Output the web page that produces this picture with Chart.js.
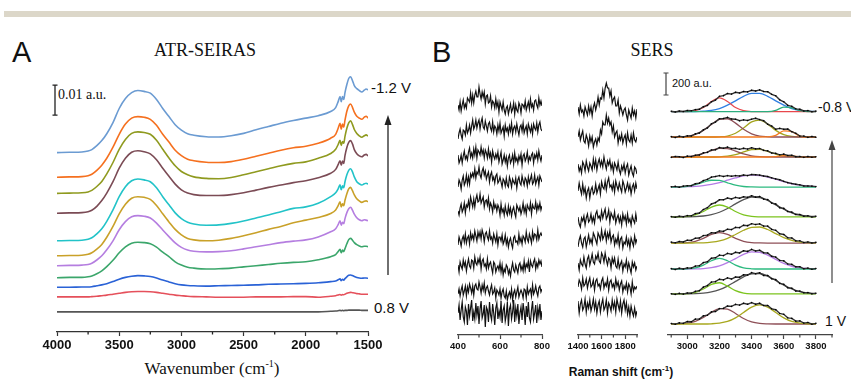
<!DOCTYPE html>
<html>
<head>
<meta charset="utf-8">
<script src="https://cdn.jsdelivr.net/npm/chart.js@4.4.1/dist/chart.umd.min.js"></script>
<style>
body { margin: 0; background: #fff; }
#fig { position: relative; width: 851px; height: 380px; overflow: hidden; background: #fff; }
#fig canvas { position: absolute; }
.t { position: absolute; white-space: nowrap; line-height: 1; color: #111; }
.serif { font-family: "Liberation Serif", "Times New Roman", serif; }
.sans { font-family: "Liberation Sans", Arial, sans-serif; }
</style>
</head>
<body>
<div id="fig">
  <div style="position:absolute;left:4px;top:11px;width:847px;height:6px;background:#dcd7c9"></div>

  <div class="t sans" style="left:12px;top:38px;font-size:29px">A</div>
  <div class="t serif" style="left:105px;top:41px;width:200px;text-align:center;font-size:18px">ATR-SEIRAS</div>
  <div class="t serif" style="left:58px;top:88px;font-size:14px">0.01 a.u.</div>
  <div class="t sans" style="left:371px;top:80px;font-size:15px">-1.2 V</div>
  <div class="t sans" style="left:374px;top:300px;font-size:15px">0.8 V</div>
  <div class="t serif" style="left:112px;top:360px;width:200px;text-align:center;font-size:17px">Wavenumber (cm<span style="font-size:10px;position:relative;top:-7px">-1</span>)</div>

  <div class="t sans" style="left:432px;top:38px;font-size:29px">B</div>
  <div class="t serif" style="left:552px;top:41px;width:200px;text-align:center;font-size:18px">SERS</div>
  <div class="t sans" style="left:672px;top:78px;font-size:11px">200 a.u.</div>
  <div class="t sans" style="left:818px;top:100px;font-size:14px">-0.8 V</div>
  <div class="t sans" style="left:825px;top:314px;font-size:14px">1 V</div>
  <div class="t sans" style="left:521px;top:366px;width:200px;text-align:center;font-size:12px;font-weight:bold">Raman shift (cm<span style="font-size:8px;position:relative;top:-5px">-1</span>)</div>

  <canvas id="irChart" width="420" height="308" style="left:0px;top:50px"></canvas>
  <canvas id="ramanLowChart" width="120" height="304" style="left:440px;top:55px"></canvas>
  <canvas id="ramanMidChart" width="95" height="304" style="left:560px;top:55px"></canvas>
  <canvas id="ramanOhChart" width="200" height="304" style="left:650px;top:55px"></canvas>
</div>

<script>
// ---------- A: ATR-SEIRAS, absorbance in mAU (0.001 a.u.) ----------
const irWavenumbers = [4000,3900,3800,3750,3720,3680,3640,3600,3550,3500,
  3450,3400,3350,3300,3250,3200,3150,3100,3050,3000,
  2950,2900,2800,2700,2600,2500,2400,2300,2200,2100,
  2000,1900,1800,1760,1740,1725,1715,1705,1695,1685,
  1670,1655,1640,1625,1610,1590,1570,1550,1530,1515,
  1500];

const irM12 = [0,0.1,0.2,0.5,1,2.3,4,6.3,10,14.7,
  18,20,20.7,20.4,19.8,17.7,14.7,12,9.3,7.5,
  6.3,5.8,5.3,5.2,5.6,6.4,7.6,8.7,9.8,10.7,
  11.5,12.3,13.7,15,17,18.7,17,18.7,17.7,20,
  22.7,24.7,25.3,24,22.3,21.3,20.7,20.2,20.8,21.2,
  20.9];
const irM10 = [0,0.1,0.2,0.5,1,2.3,4,6.3,10,14.3,
  17.7,19.7,20.2,20,19.3,17.3,14.3,11.7,9,7.2,
  6,5.5,5,4.9,5.2,6,7,8,9,9.8,
  10.3,11.3,13,14.3,16.3,18,16,17.7,16.7,19,
  22,23.8,24.4,23.3,21.7,20.3,19.7,19.3,20,20.3,
  19.7];
const irM08 = [0,0.1,0.2,0.5,1,2.3,4,6.5,10.3,14.7,
  18,20,20.5,20.3,19.7,17.7,14.7,11.8,9.2,7.3,
  6.2,5.5,5,4.9,5.3,6.2,7.2,8.2,9.2,10,
  10.5,11.7,13.3,14.7,16.3,17.7,16,17.3,16.7,19,
  21.7,23.5,24.2,23,21.3,20,19.2,18.7,19.2,19.5,
  19.1];
const irM06 = [0,0.1,0.2,0.5,1,2.3,4.2,6.7,10.5,15,
  18.3,20.3,20.8,20.5,19.8,17.8,15,12.3,9.7,7.8,
  6.7,6.2,5.9,5.9,6.2,6.8,7.7,8.6,9.4,10.2,
  10.8,11.8,13.3,14.6,16.2,17.5,16,17.4,16.6,19.2,
  21.9,23.6,24.2,23.1,21.2,19.8,19.1,18.8,19.4,19.6,
  19.1];
const irM04 = [0,0.1,0.2,0.5,1,2.3,4,6.5,10.3,14.7,
  18,20,20.6,20.3,19.7,17.7,14.7,12,9.3,7.4,
  6.2,5.6,5.2,5.3,5.8,6.6,7.6,8.6,9.7,10.8,
  11.3,12.5,14.7,16,17.3,18.7,17,18.3,17.7,19.7,
  22,23.5,24,23,21.3,19.7,19,18.6,19,19.2,
  18.9];
const irM02 = [0,0.1,0.2,0.5,1,2.2,3.8,6.2,9.8,14,
  17.2,19.2,19.7,19.5,18.8,16.8,14,11.3,8.8,7,
  5.8,5.3,5,5.2,5.8,6.7,7.7,8.8,9.8,11,
  11.9,12.8,14.1,15.3,16.7,18,16.3,17.3,16.7,18.5,
  20.7,22.3,22.8,21.7,20.3,19,18.3,17.8,18.2,18.3,
  18];
const ir00 = [0,0.1,0.2,0.4,0.8,1.9,3.3,5.3,8.3,12,
  14.7,16.3,16.7,16.5,15.9,14.2,11.9,9.7,7.6,6.1,
  5.2,4.8,4.6,4.7,5,5.6,6.3,7,7.7,8.2,
  8.6,9.6,11.3,12.3,13.7,15,13.5,14.5,14,15.7,
  17.7,19,19.5,18.5,17.2,16,15.3,15,15.3,15.2,
  15];
const irP02 = [0,0.1,0.1,0.3,0.6,1.3,2.3,3.7,5.8,8.3,
  10.3,11.5,11.8,11.7,11.3,10.2,8.5,7,5.3,4.2,
  3.5,3.2,2.9,3,3.2,3.6,4,4.4,4.8,5.1,
  5.3,6,7,7.7,8.7,9.5,8.3,9.2,8.7,9.7,
  11.3,12.7,13.1,12.5,11.7,11,10.6,10.3,10.5,10.5,
  10.3];
const irP04 = [0,0,0.1,0.1,0.2,0.5,0.8,1.2,1.9,2.7,
  3.3,3.7,3.9,3.8,3.6,3.1,2.4,1.8,1.2,0.8,
  0.6,0.5,0.4,0.5,0.6,0.7,0.8,1,1.1,1.2,
  1.3,1.5,1.9,2.1,2.5,2.8,2.2,2.7,2.4,2.9,
  3.5,4,4.1,3.9,3.6,3.3,3.1,3,3.1,3.1,
  3];
const irP06 = [0,0,0,0,0.1,0.2,0.4,0.6,0.9,1.2,
  1.5,1.7,1.8,1.8,1.7,1.5,1.2,0.9,0.6,0.4,
  0.2,0.1,0,-0.1,-0.1,-0.1,0,0,0,0.1,
  0.1,-0.1,0.2,0.4,0.6,0.8,0.6,0.8,0.7,0.9,
  1.2,1.4,1.5,1.4,1.3,1.1,1,0.9,0.9,0.9,
  0.9];
const irP08 = [0,0,0,0,0,0,0,0,0,0,
  0,0,0,0,0,0,0,0,0,0,
  0,0,0,0,0,0,0,0,0,0,
  0,0,0.2,0.3,0.4,0.5,0.4,0.5,0.4,0.5,
  0.5,0.6,0.6,0.6,0.6,0.6,0.6,0.5,0.5,0.5,
  0.5];

const irTraces = [irM12, irM10, irM08, irM06, irM04, irM02, ir00, irP02, irP04, irP06, irP08];
const irOffsets = [59.8, 51.6, 46.2, 39.6, 30.4, 25.4, 22.1, 18.1, 14.9, 11.7, 6.7];
const irColors = ['#6b9bd2', '#f5701f', '#8f9a1f', '#7b4b55', '#22c3c8', '#c9a129',
  '#b57ee0', '#3ba66b', '#2a62d6', '#e5505b', '#555555'];
const irTicks = [1500, 2000, 2500, 3000, 3500, 4000];
const irMinorTicks = [1750, 2250, 2750, 3250, 3750];

// ---------- B: SERS, 400-800 cm-1 (arbitrary units) ----------
const ramanLowShift = [400,405,410,415,420,425,430,435,440,445,
  450,455,460,465,470,475,480,485,490,495,
  500,505,510,515,520,525,530,535,540,545,
  550,555,560,565,570,575,580,585,590,595,
  600,605,610,615,620,625,630,635,640,645,
  650,655,660,665,670,675,680,685,690,695,
  700,705,710,715,720,725,730,735,740,745,
  750,755,760,765,770,775,780,785,790,795,
  800];
const ramanLow1 = [3,-2,6,-3,3,8,0,4,0,10, 8,6,15,5,13,5,13,17,11,11,
  21,14,9,16,11,16,4,12,13,5, 6,12,1,7,5,0,9,1,6,-4,
  6,2,-2,6,-2,-6,0,2,-6,-1, 4,-4,-1,5,-6,3,-2,-4,5,2,
  -5,4,3,0,7,-2,2,6,-1,9, 1,4,-2,7,8,3,0,10,3,7, 2];
const ramanLow2 = [-4,2,6,0,-4,5,4,0,10,2, 5,10,2,9,15,6,9,15,7,12,
  15,6,13,17,8,6,14,9,4,11, 13,7,4,13,3,9,7,1,10,4,
  12,2,5,8,-1,10,4,7,1,9, 4,12,1,7,9,3,11,5,0,8,
  10,4,12,2,6,9,1,11,7,3, 9,1,11,7,5,12,3,10,13,6, 4];
const ramanLow3 = [5,-3,0,5,-3,4,9,1,4,0, 8,12,3,7,2,11,5,13,2,10,
  8,5,13,6,10,2,10,7,2,11, 3,7,-2,9,4,1,6,2,8,-2,
  3,8,-4,0,5,-2,3,-6,2,5, -3,0,5,-4,7,-1,2,-3,4,0,
  6,-5,4,6,-1,2,8,-2,3,0, 5,7,-3,5,2,7,0,9,3,-1, 5];
const ramanLow4 = [-2,5,2,-4,5,9,0,3,10,1, 8,1,11,8,12,8,16,7,13,11,
  18,10,7,14,17,10,14,6,10,13, 3,10,13,5,8,2,9,11,2,4,
  8,3,-2,6,4,-1,7,0,-2,8, 4,-2,6,3,1,7,-3,5,8,2,
  0,9,4,0,7,5,-1,8,2,6, 10,1,3,10,1,5,8,0,9,6, 3];
const ramanLow5 = [1,-3,4,8,0,3,9,-1,7,5, 11,4,15,10,5,13,5,13,17,10,
  11,18,9,12,15,5,11,12,7,14, 3,9,6,0,10,4,7,1,7,4,
  -3,8,0,3,-3,6,0,-3,6,-1, 4,-4,2,5,-1,-5,7,4,1,5,
  -2,2,9,0,5,-2,7,4,2,9, -2,7,4,3,10,1,7,3,9,2, 6];
const ramanLow6 = [-3,5,1,-4,3,6,0,8,-1,4, 6,-2,9,3,7,2,11,6,1,10,
  5,10,3,12,8,0,8,10,5,2, 11,3,5,-1,8,4,0,8,-3,5,
  5,1,7,-2,1,7,-2,3,-5,1, 4,-2,-6,4,6,0,1,-2,8,0,
  4,-2,6,4,0,10,3,0,8,4, -1,10,3,8,7,2,12,3,7,9, 6];
const ramanLow7 = [2,-5,5,1,-2,7,1,5,-4,3, 8,1,-1,7,6,-1,10,4,2,8,
  4,10,-2,6,8,1,3,-2,8,-1, 3,5,-1,-6,5,3,-5,-1,1,-3,
  4,-5,2,-8,-2,-5,2,0,-7,-3, -9,-1,4,-3,-5,2,-2,-6,2,4,
  -3,1,-4,6,-3,3,0,6,-5,6, 2,0,5,8,-2,4,0,7,3,6, 0];
const ramanLow8 = [-1,4,-3,3,7,-2,2,7,-3,6, 1,9,5,0,7,-2,7,9,4,3,
  11,6,0,8,3,10,0,5,7,2, -2,4,8,-1,1,5,-5,3,1,-2,
  4,-5,1,4,-3,-5,2,-7,-2,1, -4,4,-7,0,3,-4,1,6,-4,0,
  3,0,-5,4,3,-5,6,-1,2,4, -3,8,-1,2,7,1,-3,5,7,1, 4];
const ramanLow9 = [0,8,-7,3,11,-4,-9,6,2,-12, 9,-3,5,13,-8,1,-6,10,-2,7,
  -11,4,12,-5,-1,8,-14,6,3,-9, 11,-2,-7,9,0,-12,5,10,-6,2,
  -4,12,-10,3,7,-8,-2,11,-13,4, 8,-6,1,13,-9,5,-3,9,-11,0,
  6,-7,10,2,-12,7,-4,11,-5,-9, 3,12,-6,0,8,-10,5,-3,9,-7, 2];
const ramanLowTraces = [ramanLow1, ramanLow2, ramanLow3, ramanLow4, ramanLow5, ramanLow6, ramanLow7, ramanLow8, ramanLow9];
const ramanLowOffsets = [227, 200, 175, 150, 123, 93, 68, 42, 22];
const ramanLowTicks = [400, 600, 800];
const ramanLowMinor = [500, 700];

// ---------- B: SERS, 1400-1900 cm-1 ----------
const ramanMidShift = [1400,1410,1420,1430,1440,1450,1460,1470,1480,1490,
  1500,1510,1520,1530,1540,1550,1560,1570,1580,1590,
  1600,1610,1620,1630,1640,1650,1660,1670,1680,1690,
  1700,1710,1720,1730,1740,1750,1760,1770,1780,1790,
  1800,1810,1820,1830,1840,1850,1860,1870,1880,1890,
  1900];
const ramanMid1 = [3,-4,5,-2,0,-6,3,-1,-5,4, -3,3,-6,3,7,0,5,13,5,12,
  11,20,12,22,27,22,22,14,19,7, 11,13,4,4,10,-3,4,0,-5,0,
  2,-5,-10,0,-4,-8,2,-5,-1,-8, 1];
const ramanMid2 = [-2,4,-5,0,4,-6,-8,0,-4,-11, -1,-7,-2,-12,-7,-4,-10,-3,-6,5,
  1,13,10,10,20,12,17,10,13,3, 9,-2,2,4,-8,-1,-5,1,-8,-3,
  0,-9,2,-5,-7,0,-8,2,-5,-7, -2];
const ramanMid3 = [4,-3,1,-5,6,3,-3,7,1,-3, 5,2,-2,9,1,8,-2,5,9,2,
  7,1,11,4,-1,7,3,8,-1,4, -4,5,2,-2,6,-2,-6,2,-2,4,
  -5,1,4,-7,-2,2,-5,-8,1,-1, -6];
const ramanMid4 = [-3,5,-1,-6,4,-5,0,-10,-3,0, -10,-2,1,-6,-4,4,-5,-1,3,-6,
  6,1,-1,7,-2,6,10,1,3,-2, 5,-4,7,2,-2,5,0,-4,7,3,
  -4,0,5,-2,3,-6,1,4,-3,5, -1];
const ramanMid5 = [5,-2,-5,4,1,6,-3,4,8,0, 2,8,0,5,-1,8,11,4,6,2,
  11,4,9,13,3,6,12,0,9,6, 3,10,-1,4,7,0,5,-3,8,2,
  6,-2,8,0,3,-3,6,2,-1,8, 0];
const ramanMid6 = [-4,3,7,0,-4,4,6,-4,2,8, 0,4,-1,10,7,3,-1,10,7,3,
  13,4,7,12,2,10,5,12,1,6, 8,-2,4,0,8,-3,4,6,-5,1,
  -1,6,-2,3,-5,5,1,-3,7,0, 4];
const ramanMid7 = [2,-5,5,1,-1,8,1,-3,6,9, 0,5,11,3,1,9,6,12,4,2,
  12,9,3,12,5,0,7,5,-3,7, 2,7,-1,-3,6,-3,1,4,-6,1,
  -2,5,-5,2,-3,-8,3,-2,2,-5, -1];
const ramanMid8 = [-3,4,1,-5,6,-2,0,5,-4,2, 6,-3,-1,4,-6,3,5,-2,0,-5,
  3,6,-4,1,-2,5,-6,2,4,-3, 0,-5,5,-2,2,-6,0,3,-8,-2,
  -5,1,-8,0,-3,-10,2,-7,-3,-5, -2];
const ramanMid9 = [5,-7,2,6,-4,-1,7,-6,3,-2, 6,-5,0,7,-3,4,-7,1,5,-6,
  2,7,-4,-1,6,-7,3,0,-5,6, -2,4,-6,7,1,-4,5,-7,2,6,
  -4,3,-8,-1,-10,0,-6,-10,-2,-10, -5];
const ramanMidTraces = [ramanMid1, ramanMid2, ramanMid3, ramanMid4, ramanMid5, ramanMid6, ramanMid7, ramanMid8, ramanMid9];
const ramanMidOffsets = [225, 200, 167, 147, 113, 92, 70, 51, 29];
const ramanMidTicks = [1400, 1600, 1800];
const ramanMidMinor = [1500, 1700, 1900];

// ---------- B: SERS, O-H stretch 2900-3800 cm-1 (a.u.) ----------
const ramanOhShift = [2900,2925,2950,2975,3000,3025,3050,3075,3100,3125,
  3150,3175,3200,3225,3250,3275,3300,3325,3350,3375,
  3400,3425,3450,3475,3500,3525,3550,3575,3600,3625,
  3650,3675,3700,3725,3750,3775,3800];
const ramanOh1 = [4,-3,6,2,11,8,19,22,45,57, 90,106,140,146,165,160,176,170,183,180, 195,188,198,184,182,158,145,108,90,58, 49,26,22,7,10,0,5];
const ramanOh2 = [3,-4,6,0,10,9,28,36,65,82, 120,136,166,168,178,163,162,148,156,150, 162,170,158,148,116,100,70,78,71,72, 48,34,8,8,-3,4,-2];
const ramanOh3 = [-3,5,2,-4,8,4,16,18,38,42, 64,66,86,80,90,76,80,70,79,72, 84,74,78,60,56,36,33,20,26,14, 16,3,5,-3,4,-2,2];
const ramanOh4 = [2,6,-2,8,12,12,30,36,58,70, 90,96,104,96,104,98,104,100,110,104, 114,112,108,100,96,84,74,66,52,40, 32,26,20,10,10,8,4];
const ramanOh5 = [3,-2,6,2,12,10,30,36,68,84, 118,130,156,156,172,164,178,170,184,178, 192,180,186,162,158,126,118,84,78,50, 44,22,22,6,10,0,6];
const ramanOh6 = [8,2,14,10,26,24,44,46,68,72, 94,92,110,106,126,122,142,140,162,158, 176,168,174,154,154,124,116,84,78,48, 46,20,20,4,10,0,6];
const ramanOh7 = [3,-4,6,0,10,8,26,30,58,66, 98,102,126,122,142,134,152,146,166,160, 178,164,170,148,146,116,108,78,74,46, 42,20,20,2,8,-2,4];
const ramanOh8 = [2,-4,5,-1,9,6,24,30,62,76, 108,112,134,128,146,136,154,152,174,172, 194,184,192,168,168,138,130,96,88,56, 52,26,26,10,12,1,6];
const ramanOh9 = [5,-2,10,6,22,20,44,46,74,80, 110,114,140,142,164,160,178,172,188,180, 194,180,188,168,168,138,130,96,88,56, 51,26,28,8,14,-2,6];
const ramanOhTraces = [ramanOh1, ramanOh2, ramanOh3, ramanOh4, ramanOh5, ramanOh6, ramanOh7, ramanOh8, ramanOh9];
const ramanOhOffsets = [2030, 1800, 1618, 1345, 1073, 836, 600, 373, 100];

// fitted Gaussian components, sampled every 50 cm-1
const fitShift = [2900,2950,3000,3050,3100,3150,3200,3250,3300,3350,3400,3450,3500,3550,3600,3650,3700,3750,3800];
const fitRed1 = [0,0,1,9,38,93,125,93,38,9,1,0,0,0,0,0,0,0,0];
const fitBlue1 = [0,0,0,1,5,12,29,59,99,140,166,166,140,99,59,29,12,5,1];
const fitGreen1 = [0,0,0,0,0,0,0,0,0,0,0,0,1,13,41,36,9,1,0];
const fitBrown2 = [0,1,6,23,60,114,161,166,126,70,29,8,2,0,0,0,0,0,0];
const fitOlive2 = [0,0,0,0,0,0,2,9,34,82,137,154,117,60,21,5,1,0,0];
const fitOrange2 = [0,0,0,0,0,0,0,0,0,0,0,0,1,14,56,48,9,0,0];
const fitBrown3 = [0,1,4,13,33,59,78,76,54,28,11,3,1,0,0,0,0,0,0];
const fitOlive3 = [0,0,0,0,0,0,2,8,22,46,68,70,51,27,10,3,0,0,0];
const fitOrange3 = [0,0,0,0,0,0,0,0,0,0,0,0,0,3,12,10,2,0,0];
const fitTeal4 = [0,1,7,21,44,62,60,39,17,5,1,0,0,0,0,0,0,0,0];
const fitViolet4 = [0,1,3,6,13,24,41,62,83,101,109,105,91,71,49,30,17,8,4];
const fitLime5 = [0,1,5,19,50,90,109,90,50,19,5,1,0,0,0,0,0,0,0];
const fitGray5 = [0,0,1,3,9,21,43,77,119,157,180,177,151,110,70,38,18,7,3];
const fitBrown6 = [0,1,4,16,43,78,94,78,43,16,4,1,0,0,0,0,0,0,0];
const fitOlive6 = [0,0,0,1,2,8,20,43,78,116,143,146,123,86,50,24,9,3,1];
const fitTeal7 = [0,0,2,10,35,75,97,75,35,10,2,0,0,0,0,0,0,0,0];
const fitViolet7 = [0,0,0,1,4,13,29,58,95,133,155,152,126,87,51,25,10,4,1];
const fitLime8 = [0,0,3,14,45,87,102,71,30,8,1,0,0,0,0,0,0,0,0];
const fitGray8 = [0,0,1,3,8,19,39,72,114,156,183,186,163,123,80,45,22,9,3];
const fitBrown9 = [0,2,7,24,59,106,140,135,96,50,19,5,1,0,0,0,0,0,0];
const fitOlive9 = [0,0,0,0,0,2,8,23,56,105,153,173,153,105,56,23,8,2,0];

const ramanOhTicks = [3000, 3200, 3400, 3600, 3800];
const ramanOhMinor = [2900, 3100, 3300, 3500, 3700, 3900];

// component -> trace index, colour; last in each trace is drawn over the others
const fitParts = [
  [fitRed1, 0, '#e8474c'], [fitBlue1, 0, '#2f7fe3'], [fitGreen1, 0, '#2cae7f'],
  [fitBrown2, 1, '#8e4f57'], [fitOlive2, 1, '#a3a31c'], [fitOrange2, 1, '#f47a20'],
  [fitBrown3, 2, '#8e4f57'], [fitOlive3, 2, '#a3a31c'], [fitOrange3, 2, '#f47a20'],
  [fitViolet4, 3, '#b47be6'], [fitTeal4, 3, '#2dba80'],
  [fitGray5, 4, '#555555'], [fitLime5, 4, '#7cc41e'],
  [fitBrown6, 5, '#8e4f57'], [fitOlive6, 5, '#a8a81e'],
  [fitViolet7, 6, '#b47be6'], [fitTeal7, 6, '#2dba80'],
  [fitGray8, 7, '#555555'], [fitLime8, 7, '#7cc41e'],
  [fitBrown9, 8, '#8e4f57'], [fitOlive9, 8, '#a8a81e']
];

// ---------- drawing ----------
const decorPlugin = {
  id: 'decor',
  afterDraw(chart, args, o) {
    const c = chart.ctx, xs = chart.scales.x, ys = chart.scales.y, area = chart.chartArea;
    c.save();
    c.strokeStyle = o.color;
    c.fillStyle = o.color;
    c.lineWidth = o.lineWidth;
    o.minor.forEach(function (v) {
      const px = xs.getPixelForValue(v);
      c.beginPath();
      c.moveTo(px, xs.top);
      c.lineTo(px, xs.top + o.minorLength);
      c.stroke();
    });
    if (o.bar) {
      const bx = area.left + o.bar.dx;
      const b0 = ys.getPixelForValue(o.bar.from), b1 = ys.getPixelForValue(o.bar.to);
      c.beginPath();
      c.moveTo(bx, b0); c.lineTo(bx, b1);
      c.moveTo(bx - 2.5, b0); c.lineTo(bx + 2.5, b0);
      c.moveTo(bx - 2.5, b1); c.lineTo(bx + 2.5, b1);
      c.stroke();
    }
    if (o.arrow) {
      const ax = area.right + o.arrow.dx;
      const a0 = ys.getPixelForValue(o.arrow.from), a1 = ys.getPixelForValue(o.arrow.to);
      c.beginPath();
      c.moveTo(ax, a0); c.lineTo(ax, a1 + 8);
      c.stroke();
      c.beginPath();
      c.moveTo(ax, a1); c.lineTo(ax - 3.5, a1 + 10); c.lineTo(ax + 3.5, a1 + 10);
      c.closePath();
      c.fill();
    }
    c.restore();
  }
};

function xAxis(min, max, reverse, majors, size, color, height) {
  return {
    type: 'linear', min: min, max: max, reverse: reverse,
    afterBuildTicks: function (s) { s.ticks = majors.map(function (v) { return { value: v }; }); },
    afterFit: function (s) { s.height = height; },
    grid: { drawOnChartArea: false, drawTicks: true, tickLength: 4, tickColor: color, tickWidth: 1.2 },
    border: { display: true, color: color, width: 1.2 },
    ticks: {
      autoSkip: false, maxRotation: 0, padding: 2, color: '#111',
      font: { family: 'Liberation Sans', size: size, weight: 'bold' },
      callback: function (v) { return String(v); }
    }
  };
}

function series(xs, ys, offset, color, width, order) {
  return {
    data: xs.map(function (x, i) { return { x: x, y: ys[i] + offset }; }),
    borderColor: color, borderWidth: width, pointRadius: 0, fill: false, order: order
  };
}

function makeChart(id, datasets, xOpts, yMax, padding, decor, smooth) {
  return new Chart(document.getElementById(id), {
    type: 'line',
    data: { datasets: datasets },
    options: {
      responsive: false, animation: false, devicePixelRatio: 1,
      layout: { padding: padding },
      elements: { line: smooth ? { cubicInterpolationMode: 'monotone' } : { tension: 0 } },
      scales: { x: xOpts, y: { display: false, min: 0, max: yMax } },
      plugins: { legend: { display: false }, tooltip: { enabled: false }, decor: decor }
    },
    plugins: [decorPlugin]
  });
}

// panel A
var irSets = [];
for (var i = 0; i < irTraces.length; i++) {
  irSets.push(series(irWavenumbers, irTraces[i], irOffsets[i], irColors[i], 1.6, i));
}
makeChart('irChart', irSets,
  xAxis(1500, 4000, true, irTicks, 13, '#333', 26), 90,
  { left: 57, right: 52, top: 12, bottom: 0 },
  { color: '#222', lineWidth: 1.3, minor: irMinorTicks, minorLength: 2.5,
    bar: { dx: -2, from: 72.3, to: 82.3 }, arrow: { dx: 20, from: 19, to: 72.3 } },
  true);

// panel B, low range
var lowSets = [];
for (var i = 0; i < ramanLowTraces.length; i++) {
  lowSets.push(series(ramanLowShift, ramanLowTraces[i], ramanLowOffsets[i], '#111', 1.2, i));
}
makeChart('ramanLowChart', lowSets,
  xAxis(400, 800, false, ramanLowTicks, 9.5, '#444', 24), 270,
  { left: 18, right: 18, top: 10, bottom: 0 },
  { color: '#444', lineWidth: 1.2, minor: ramanLowMinor, minorLength: 2.5 }, false);

// panel B, mid range
var midSets = [];
for (var i = 0; i < ramanMidTraces.length; i++) {
  midSets.push(series(ramanMidShift, ramanMidTraces[i], ramanMidOffsets[i], '#111', 1.2, i));
}
makeChart('ramanMidChart', midSets,
  xAxis(1400, 1900, false, ramanMidTicks, 9.5, '#444', 24), 270,
  { left: 18, right: 18, top: 10, bottom: 0 },
  { color: '#444', lineWidth: 1.2, minor: ramanMidMinor, minorLength: 2.5 }, false);

// panel B, O-H range with fits
var ohSets = [];
for (var i = 0; i < ramanOhTraces.length; i++) {
  var d = series(ramanOhShift, ramanOhTraces[i], ramanOhOffsets[i], '#333', 1.4, 0);
  d.pointRadius = 0.8;
  d.pointBorderWidth = 0;
  d.pointBackgroundColor = '#000';
  ohSets.push(d);
}
for (var k = 0; k < fitParts.length; k++) {
  var p = fitParts[k];
  var last = k === fitParts.length - 1 || fitParts[k + 1][1] !== p[1];
  var s = series(fitShift, p[0], ramanOhOffsets[p[1]], p[2], 1.3, last ? 1 : 2);
  s.cubicInterpolationMode = 'monotone';
  ohSets.push(s);
}
makeChart('ramanOhChart', ohSets,
  xAxis(2880, 3900, false, ramanOhTicks, 9.5, '#444', 24), 270 / 0.11,
  { left: 18, right: 18, top: 10, bottom: 0 },
  { color: '#444', lineWidth: 1.2, minor: ramanOhMinor, minorLength: 2.5,
    bar: { dx: -2, from: 2182, to: 2382 }, arrow: { dx: 0, from: 473, to: 1773 } },
  false);
</script>
</body>
</html>
